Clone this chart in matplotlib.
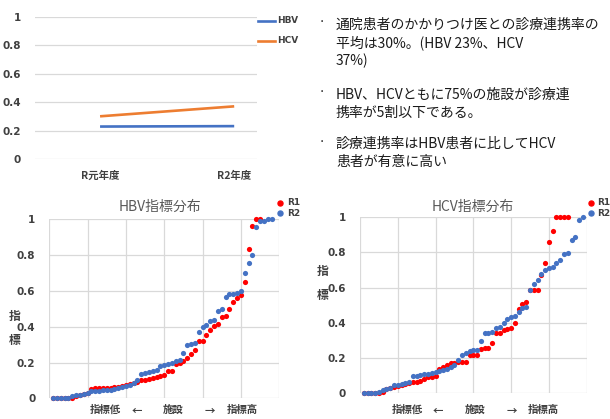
"""HBV / HCV collaboration-rate summary figure."""
import matplotlib
matplotlib.use("Agg")
import matplotlib.pyplot as plt
import numpy as np

W, H = 610, 419
JP = ["Noto Sans CJK JP", "DejaVu Sans"]
TICK = "#404040"
GRID = "#d9d9d9"
BLUE = "#4472c4"
ORANGE = "#ed7d31"
RED = "#ff0000"

# top line chart
years = ["R元年度", "R2年度"]
hbv_mean = [0.228, 0.231]
hcv_mean = [0.30, 0.37]

# bullet text
bullets = [
    ["通院患者のかかりつけ医との診療連携率の", "平均は30%。(HBV 23%、HCV", "37%)"],
    ["HBV、HCVともに75%の施設が診療連", "携率が5割以下である。"],
    ["診療連携率はHBV患者に比してHCV", "患者が有意に高い"],
]

# facility distributions (sorted index per facility)
hbv_r1 = [0, 0, 0, 0, 0, 0, 0.015, 0.02, 0.025, 0.03, 0.05, 0.055, 0.055, 0.055, 0.06,
          0.06, 0.062, 0.065, 0.07, 0.075, 0.08, 0.085, 0.09, 0.1, 0.105, 0.11, 0.115,
          0.12, 0.125, 0.13, 0.155, 0.155, 0.19, 0.2, 0.21, 0.225, 0.25, 0.27, 0.32,
          0.32, 0.355, 0.38, 0.405, 0.415, 0.455, 0.46, 0.5, 0.54, 0.56, 0.575, 0.65,
          0.835, 0.965, 1.0, 1.0]
hbv_r2 = [0, 0, 0, 0, 0, 0.015, 0.018, 0.02, 0.025, 0.03, 0.04, 0.04, 0.042, 0.045,
          0.045, 0.047, 0.05, 0.06, 0.065, 0.07, 0.075, 0.085, 0.1, 0.135, 0.14, 0.145,
          0.15, 0.16, 0.18, 0.185, 0.19, 0.2, 0.21, 0.215, 0.255, 0.3, 0.305, 0.31,
          0.37, 0.4, 0.41, 0.43, 0.44, 0.49, 0.5, 0.565, 0.58, 0.585, 0.59, 0.6, 0.7,
          0.755, 0.8, 0.955, 0.99, 0.99, 1.0, 1.0]
hcv_r1 = [0, 0, 0, 0, 0, 0.01, 0.025, 0.03, 0.035, 0.04, 0.05, 0.055, 0.06, 0.065,
          0.065, 0.07, 0.08, 0.09, 0.095, 0.1, 0.14, 0.15, 0.16, 0.17, 0.17, 0.18, 0.18,
          0.18, 0.215, 0.22, 0.22, 0.25, 0.255, 0.26, 0.285, 0.34, 0.345, 0.36, 0.365,
          0.37, 0.4, 0.48, 0.51, 0.52, 0.585, 0.585, 0.585, 0.67, 0.74, 0.86, 0.92,
          1.0, 1.0, 1.0, 1.0]
hcv_r2 = [0, 0, 0, 0, 0.01, 0.02, 0.025, 0.03, 0.045, 0.05, 0.055, 0.06, 0.065, 0.1,
          0.1, 0.105, 0.11, 0.11, 0.115, 0.12, 0.125, 0.13, 0.14, 0.15, 0.16, 0.19,
          0.22, 0.23, 0.24, 0.245, 0.245, 0.3, 0.34, 0.345, 0.35, 0.37, 0.375, 0.4,
          0.425, 0.435, 0.44, 0.46, 0.485, 0.49, 0.585, 0.62, 0.645, 0.68, 0.7, 0.71,
          0.715, 0.74, 0.755, 0.79, 0.795, 0.87, 0.89, 0.985, 1.0]


def px_axes(fig, left, top, right, bottom):
    return fig.add_axes([left / W, 1 - bottom / H, (right - left) / W, (bottom - top) / H])


def ftext(fig, x, y, s, **kw):
    return fig.text(x / W, 1 - y / H, s, **kw)


fig = plt.figure(figsize=(W / 100, H / 100), dpi=100)

# ---- top-left line chart
ax = px_axes(fig, 35, 16.7, 257, 159)
xs = np.arange(len(years))
ax.plot(xs, hbv_mean, color=BLUE, lw=1.9, solid_capstyle="butt")
ax.plot(xs, hcv_mean, color=ORANGE, lw=1.9, solid_capstyle="butt")
ax.set_xlim(-0.485, 1.17)
ax.set_ylim(0, 1)
ax.set_yticks(np.arange(0, 1.01, 0.2))
ax.set_yticklabels(["0", "0.2", "0.4", "0.6", "0.8", "1"])
ax.set_xticks([])
ax.grid(axis="y", color=GRID, lw=0.9)
ax.set_axisbelow(True)
for s in ax.spines.values():
    s.set_visible(False)
ax.tick_params(axis="y", length=0, pad=10, labelsize=7.5, labelcolor=TICK)
for t in ax.get_yticklabels():
    t.set_fontweight("bold")
for i, lab in enumerate(years):
    ax.text(i, -0.12, lab, transform=ax.get_xaxis_transform(), ha="center", va="center",
            family=JP, fontsize=7.5, fontweight="bold", color=TICK)
# legend
for y, col, lab in [(20.7, BLUE, "HBV"), (40.7, ORANGE, "HCV")]:
    fig.add_artist(plt.Line2D([258 / W, 275 / W], [1 - y / H] * 2, color=col, lw=1.9))
    ftext(fig, 277, y, lab, ha="left", va="center", fontsize=6.5, fontweight="bold", color=TICK)

# ---- bullet text
para_y = [25, 95, 144]
for y0, lines in zip(para_y, bullets):
    ftext(fig, 322, y0 - 3, "・", ha="center", va="center", family=JP, fontsize=6, color="#1a1a1a")
    for k, line in enumerate(lines):
        ftext(fig, 336, y0 + 18 * k, line, ha="left", va="center", family=JP,
              fontsize=10, color="#1a1a1a")


# ---- bottom scatter plots
def dist_panel(box, r1, r2, title, title_x, ylab_x, ylab_y, xlab_pos, leg_x, leg_y):
    ax = px_axes(fig, *box)
    ax.scatter(np.arange(1, len(r1) + 1), r1, s=14, color=RED, lw=0, clip_on=False, zorder=3)
    ax.scatter(np.arange(1, len(r2) + 1), r2, s=14, color=BLUE, lw=0, clip_on=False, zorder=4)
    ax.set_xlim(0, 60)
    ax.set_ylim(0, 1)
    ax.set_xticks(np.arange(0, 61, 10))
    ax.set_yticks(np.arange(0, 1.01, 0.2))
    ax.set_yticklabels(["0", "0.2", "0.4", "0.6", "0.8", "1"])
    ax.set_xticklabels([])
    ax.grid(True, color=GRID, lw=0.9)
    ax.set_axisbelow(True)
    for s in ax.spines.values():
        s.set_visible(False)
    ax.tick_params(length=0, labelsize=7.5, labelcolor=TICK, pad=10)
    for t in ax.get_yticklabels():
        t.set_fontweight("bold")
    ftext(fig, title_x, 206.7, title, ha="center", va="center", family=JP, fontsize=10, color="#595959")
    for k, ch in enumerate("指標"):
        ftext(fig, ylab_x, ylab_y + 23.5 * k, ch, ha="center", va="center", family=JP,
              fontsize=8.5, fontweight="bold", color=TICK)
    for x, s in xlab_pos:
        ftext(fig, x, 410, s, ha="center", va="center", family=JP, fontsize=7.5,
              fontweight="bold", color=TICK)
    for k, (col, lab) in enumerate([(RED, "R1"), (BLUE, "R2")]):
        y = leg_y + 10.5 * k
        fig.add_artist(plt.Line2D([leg_x / W], [1 - y / H], marker="o", ms=3.6, color=col, lw=0))
        ftext(fig, leg_x + 7, y, lab, ha="left", va="center", fontsize=6.5, fontweight="bold", color=TICK)
    return ax


dist_panel((49.3, 219.3, 279.3, 398.3), hbv_r1, hbv_r2, "HBV指標分布", 160, 15, 316.7,
           [(105, "指標低"), (137, "←"), (173, "施設"), (210, "→"), (242, "指標高")],
           280, 202.7)
dist_panel((360, 217.3, 586.7, 393.3), hcv_r1, hcv_r2, "HCV指標分布", 473, 323, 271.7,
           [(407, "指標低"), (438, "←"), (475, "施設"), (512, "→"), (543, "指標高")],
           590.5, 202.7)

fig.savefig("out.png", dpi=100)
